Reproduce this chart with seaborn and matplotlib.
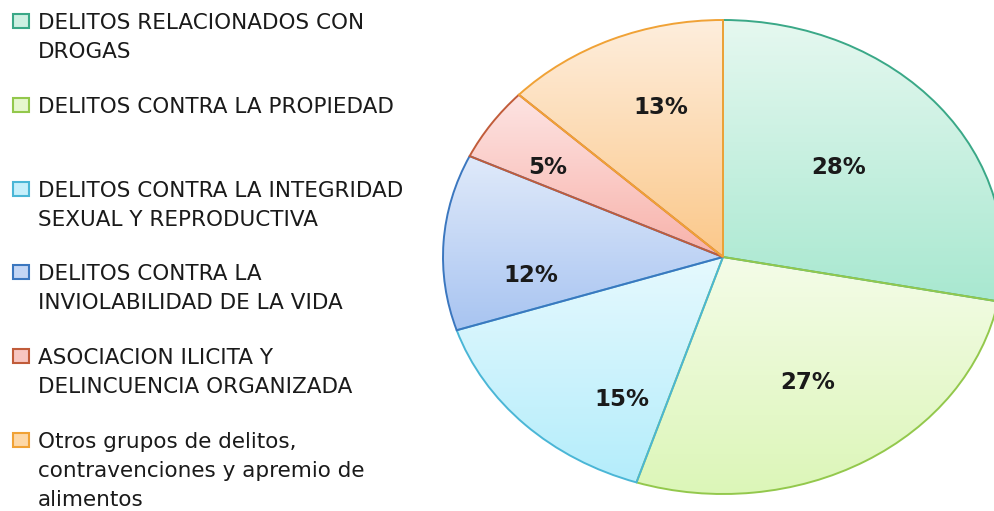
import numpy as np
import matplotlib
matplotlib.use("Agg")
import matplotlib.pyplot as plt
import seaborn as sns
from matplotlib.colors import LinearSegmentedColormap
from matplotlib.patches import Rectangle

# data
categories = [
    "DELITOS RELACIONADOS CON\nDROGAS",
    "DELITOS CONTRA LA PROPIEDAD",
    "DELITOS CONTRA LA INTEGRIDAD\nSEXUAL Y REPRODUCTIVA",
    "DELITOS CONTRA LA\nINVIOLABILIDAD DE LA VIDA",
    "ASOCIACION ILICITA Y\nDELINCUENCIA ORGANIZADA",
    "Otros grupos de delitos,\ncontravenciones y apremio de\nalimentos",
]
shares = [28, 27, 15, 12, 5, 13]

# slice styling (gradient top -> bottom, outline)
top_colors = ["#e6f8f0", "#f4fce8", "#e6f9fe", "#e0eafa", "#fde4e3", "#feeedd"]
bottom_colors = ["#a8e8d0", "#dcf6b8", "#b4edfb", "#a8c4f1", "#f8b2aa", "#fbc88a"]
edge_colors = ["#3aa887", "#93c84c", "#4ab6d6", "#3b77bf", "#c15c3a", "#f0a236"]
legend_fill = ["#cdf0e2", "#e6f7cf", "#c6effb", "#c3d6f5", "#f8c6c1", "#fdd8a8"]

# per-slice label placement (radius, angle nudge in degrees)
label_r = [0.56, 0.61, 0.70, 0.69, 0.73, 0.67]
label_nudge = [3, -1, 14, 10, 3, -4]

sns.set_theme(style="white")
plt.rcParams["font.family"] = ["DejaVu Sans"]

W, H = 994, 511
fig = plt.figure(figsize=(W / 100, H / 100), dpi=100)

# pie drawn as an ellipse: centre (723, 257) px, radii 280 x 237 px
cx, cy, rx, ry = 723, 257, 280, 237
pad = 1.03
ax = fig.add_axes([(cx - rx * pad) / W, 1 - (cy + ry * pad) / H,
                   2 * rx * pad / W, 2 * ry * pad / H])

wedges, texts, autotexts = ax.pie(
    shares,
    startangle=90,
    counterclock=False,
    autopct="%1.0f%%",
    wedgeprops=dict(linewidth=1.4),
    textprops=dict(fontsize=16.5, fontweight="bold", color="#1a1a1a"),
)

grad = np.linspace(0, 1, 256).reshape(-1, 1)
for i, w in enumerate(wedges):
    w.set_facecolor("none")
    w.set_edgecolor(edge_colors[i])
    w.set_zorder(3)
    ext = w.get_path().get_extents()
    cmap = LinearSegmentedColormap.from_list(f"g{i}", [top_colors[i], bottom_colors[i]])
    im = ax.imshow(grad, cmap=cmap, extent=[ext.x0, ext.x1, ext.y0, ext.y1],
                   origin="upper", aspect="auto", zorder=1, interpolation="bilinear")
    im.set_clip_path(w)

    mid = np.deg2rad((w.theta1 + w.theta2) / 2 + label_nudge[i])
    autotexts[i].set_position((label_r[i] * np.cos(mid), label_r[i] * np.sin(mid)))
    autotexts[i].set_zorder(5)

ax.set_xlim(-pad, pad)
ax.set_ylim(-pad, pad)
ax.set_aspect("auto")
ax.axis("off")

# legend on the left, equal slots, text top-aligned in each slot
slot_top, slot_h, line_h = 21, 83.8, 29
for i, label in enumerate(categories):
    y0 = slot_top + i * slot_h
    fig.add_artist(Rectangle((13 / W, 1 - (y0 + 7) / H), 16 / W, 14 / H,
                             transform=fig.transFigure, facecolor=legend_fill[i],
                             edgecolor=edge_colors[i], linewidth=1.5))
    for j, line in enumerate(label.split("\n")):
        fig.text(38 / W, 1 - (y0 + j * line_h) / H, line, fontsize=15.5,
                 color="#1a1a1a", va="center_baseline", ha="left")

fig.savefig("out.png", dpi=100, facecolor="white")
